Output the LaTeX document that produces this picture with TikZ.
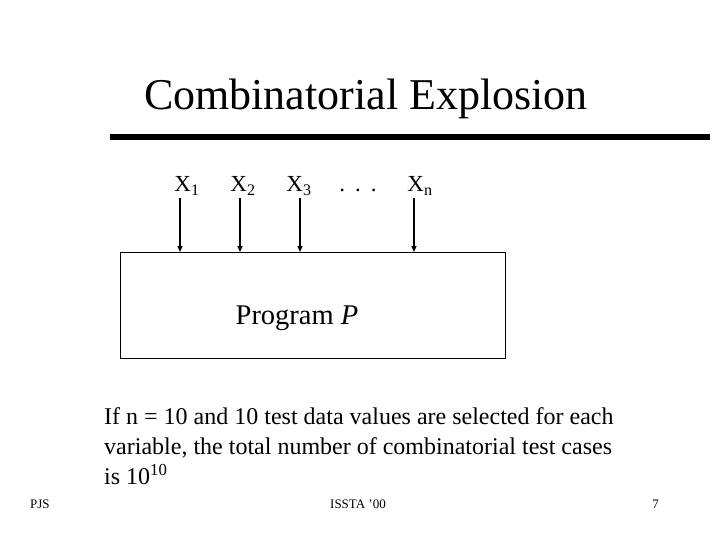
\documentclass[tikz,border=0pt]{standalone}
\usepackage{fontspec}
\setmainfont{Liberation Serif}
\usetikzlibrary{arrows.meta}
\begin{document}
\begin{tikzpicture}[x=1pt,y=-1pt,
  var/.style={font=\fontsize{23}{26}\selectfont,inner sep=0pt,anchor=base},
  foot/.style={font=\fontsize{13}{14}\selectfont,inner sep=0pt},
  feed/.style={-{Triangle[width=5pt,length=6pt]},line width=1.4pt}]
\useasboundingbox (0,0) rectangle (720,540);
\node[font=\fontsize{44}{48}\selectfont,anchor=base] (title) at (366,110) {Combinatorial Explosion};
\draw[line width=6pt] (110,137.5) -- (710,137.5);
\node[var] (x1) at (187,192) {X\textsubscript{1}};
\node[var] (x2) at (243,192) {X\textsubscript{2}};
\node[var] (x3) at (299,192) {X\textsubscript{3}};
\node[var] (dots) at (358,192) {.\hspace{10pt}.\hspace{10pt}.};
\node[var] (xn) at (420,192) {X\textsubscript{n}};
\node[draw,line width=0.8pt,minimum width=385,minimum height=106,anchor=north west,inner sep=0pt] (prog) at (120,252) {};
\node[font=\fontsize{28.5}{32}\selectfont,anchor=base] (lbl) at (297,324) {Program \textit{P}};
% inputs
\coordinate (a1) at (180,198); \coordinate (a2) at (240,198);
\coordinate (a3) at (300,198); \coordinate (an) at (414,198);
\foreach \a in {a1,a2,a3,an}
  \draw[feed] (\a) -- (\a |- prog.north);
\node[font=\fontsize{24}{30}\selectfont,anchor=north west,align=left,inner sep=0pt] (note) at (104,407)
  {If n = 10 and 10 test data values are selected for each\\variable, the total number of combinatorial test cases\\is 10\textsuperscript{10}};
% footer
\node[foot,anchor=base west] (pjs) at (30,508) {PJS};
\node[foot,anchor=base] (conf) at (358,508) {ISSTA '00};
\node[foot,anchor=base east] (page) at (659,508) {7};
\end{tikzpicture}
\end{document}
